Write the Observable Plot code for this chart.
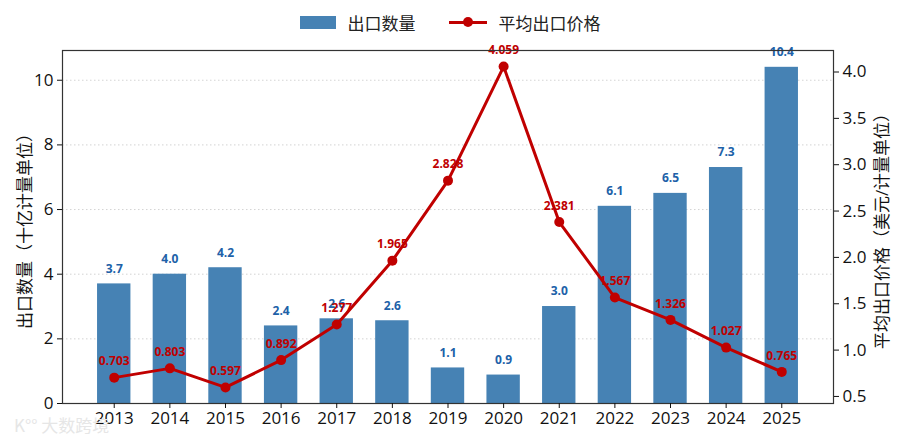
<!DOCTYPE html>
<html>
<head>
<meta charset="utf-8">
<script src="https://cdn.jsdelivr.net/npm/d3@7"></script>
<script src="https://cdn.jsdelivr.net/npm/@observablehq/plot@0.6"></script>
<style>
  body { margin: 0; background: #fff; font-family: "Open Sans", "Noto Sans CJK SC", sans-serif; }
  #wrap { position: relative; width: 900px; height: 440px; }
  #legend { position: absolute; top: 10px; left: 0; width: 900px; display: flex; justify-content: center; align-items: center; font-family: "Noto Sans CJK SC", sans-serif; font-size: 17px; color: #222; }
  .sw { width: 36px; height: 13px; background: #4682b4; margin-right: 12px; }
  .ln { position: relative; width: 38px; height: 3px; background: #c00000; margin-right: 12px; margin-left: 33px; }
  .ln::after { content: ""; position: absolute; left: 14px; top: -4px; width: 10px; height: 10px; border-radius: 50%; background: #c00000; }
  #wm { position: absolute; left: 14px; top: 412px; font-family: "Noto Sans CJK SC", sans-serif; font-size: 17px; color: #e6e6e6; }
</style>
</head>
<body>
<div id="wrap">
  <div id="chart"></div>
  <div id="legend"><div class="sw"></div><span>出口数量</span><div class="ln"></div><span>平均出口价格</span></div>
  <div id="wm">K°° 大数跨境</div>
</div>
<script>
const years = [2013, 2014, 2015, 2016, 2017, 2018, 2019, 2020, 2021, 2022, 2023, 2024, 2025];
const quantity = [3.7, 4.0, 4.2, 2.4, 2.62, 2.56, 1.1, 0.88, 3.0, 6.1, 6.5, 7.3, 10.4];
const price = [0.703, 0.803, 0.597, 0.892, 1.277, 1.965, 2.828, 4.059, 2.381, 1.567, 1.326, 1.027, 0.765];
const leftTicks = [0, 2, 4, 6, 8, 10];
const rightTicks = [0.5, 1.0, 1.5, 2.0, 2.5, 3.0, 3.5, 4.0];

const yMax = 10.4 * 1.05;
const pMin = 0.597, pMax = 4.059, pPad = (pMax - pMin) * 0.05;
const r0 = pMin - pPad, r1 = pMax + pPad;
const toY = p => (p - r0) / (r1 - r0) * yMax;
const fromY = y => r0 + y / yMax * (r1 - r0);

const bars = years.map((yr, i) => ({year: yr, q: quantity[i]}));
const pts = years.map((yr, i) => ({year: yr, p: price[i], py: toY(price[i])}));

const chart = Plot.plot({
  width: 900,
  height: 440,
  marginTop: 50,
  marginBottom: 37,
  marginLeft: 62,
  marginRight: 67,
  style: {fontFamily: '"Open Sans", "Noto Sans CJK SC", sans-serif', fontSize: "17px", color: "#111"},
  x: {type: "linear", domain: [years[0] - 0.93, years[years.length - 1] + 0.93]},
  y: {domain: [0, yMax]},
  marks: [
    Plot.ruleY([2, 4, 6, 8, 10], {stroke: "#c8c8c8", strokeDasharray: "1.5,2.5", strokeWidth: 0.8}),
    Plot.rectY(bars, {x1: d => d.year - 0.3, x2: d => d.year + 0.3, y1: 0, y2: "q", fill: "#4682b4"}),
    Plot.text(bars, {x: "year", y: "q", text: d => d.q.toFixed(1), dy: -15, fill: "#2061a8", fontWeight: "bold", fontSize: 12}),
    Plot.line(pts, {x: "year", y: "py", stroke: "#c00000", strokeWidth: 3}),
    Plot.dot(pts, {x: "year", y: "py", r: 5, fill: "#c00000"}),
    Plot.text(pts, {x: "year", y: "py", text: d => d.p.toFixed(3), dy: -16, fill: "#c00000", fontWeight: "bold", fontSize: 12}),
    Plot.frame({stroke: "#333", strokeWidth: 1.2}),
    Plot.axisX({ticks: years, tickFormat: d => String(d), tickSize: 5, tickPadding: 3, fontSize: 17, label: null}),
    Plot.axisY({anchor: "left", ticks: leftTicks, tickSize: 5, tickPadding: 4, fontSize: 17,
      label: "出口数量（十亿计量单位）", labelAnchor: "center", labelArrow: "none", labelOffset: 44}),
    Plot.axisY({anchor: "right", ticks: rightTicks.map(toY), tickFormat: d => fromY(d).toFixed(1), tickSize: 5, tickPadding: 4, fontSize: 17,
      label: "平均出口价格（美元/计量单位）", labelAnchor: "center", labelArrow: "none", labelOffset: 54})
  ]
});
document.getElementById("chart").appendChild(chart);
</script>
</body>
</html>
